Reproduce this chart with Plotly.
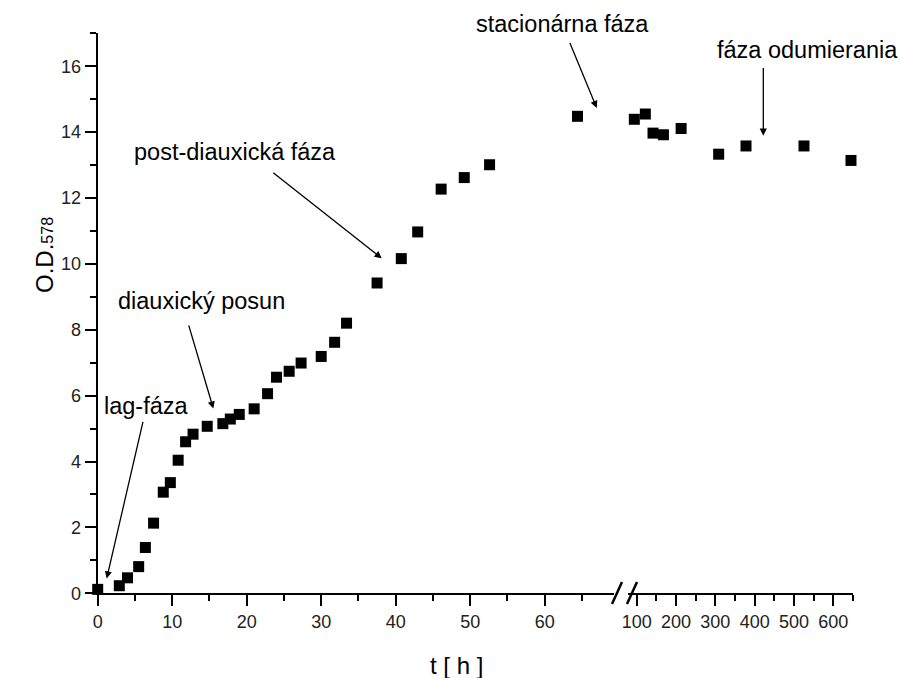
import plotly.graph_objects as go

W, H = 902, 678

# Growth curve: early phase (hours, linear part of the axis)
t_early = [0, 2.9, 4.0, 5.5, 6.4, 7.5, 8.8, 9.75, 10.8, 11.8, 12.8, 14.7, 16.8,
           17.8, 19.0, 21.0, 22.8, 24.0, 25.7, 27.3, 30.0, 31.8, 33.4, 37.5,
           40.75, 42.95, 46.1, 49.2, 52.6, 64.4]
od_early = [0.12, 0.23, 0.47, 0.81, 1.39, 2.13, 3.07, 3.36, 4.04, 4.60, 4.83,
            5.07, 5.15, 5.29, 5.43, 5.60, 6.06, 6.56, 6.74, 6.99, 7.19, 7.62,
            8.20, 9.42, 10.16, 10.97, 12.27, 12.62, 13.01, 14.48]

# Late phase (hours, compressed part of the axis after the break)
t_late = [94, 122, 141.5, 168, 213, 308.5, 378, 525.5, 645]
od_late = [14.39, 14.55, 13.97, 13.92, 14.11, 13.33, 13.58, 13.58, 13.14]

x1_ticks = [0, 10, 20, 30, 40, 50, 60]
x2_ticks = [100, 200, 300, 400, 500, 600]
y_ticks = [0, 2, 4, 6, 8, 10, 12, 14, 16]

# Phase labels and their arrows
labels = ["lag-fáza", "diauxický posun", "post-diauxická fáza",
          "stacionárna fáza", "fáza odumierania"]
label_axis = ["x", "x", "x", "x", "x2"]
label_x = [6.55, 13.9, 18.43, 62.45, 534.4]
label_y = [5.7, 8.86, 13.4, 17.27, 16.49]
tail_x = [6.12, 12.16, 23.36, 63.3, 422]
tail_y = [5.25, 8.18, 12.8, 16.75, 15.99]
tip_x = [1.21, 15.52, 38.12, 66.98, 422]
tip_y = [0.45, 5.61, 10.17, 14.73, 13.89]

FONT = "Liberation Sans, Arial, Helvetica, sans-serif"

Y_BOTTOM, Y_TOP = 593.3, 33.3   # pixel rows of y = 0 and y = 17
Y_MAX = 17


def fx(p):
    return p / W


def fy(p):
    return 1 - p / H


def y_to_paper(v):
    return fy(Y_BOTTOM - (Y_BOTTOM - Y_TOP) * v / Y_MAX)


marker = dict(symbol="square", size=11, color="black", line=dict(width=0))

fig = go.Figure()
fig.add_trace(go.Scatter(x=t_early, y=od_early, mode="markers", marker=marker,
                         xaxis="x", yaxis="y", cliponaxis=False, showlegend=False))
fig.add_trace(go.Scatter(x=t_late, y=od_late, mode="markers", marker=marker,
                         xaxis="x2", yaxis="y", cliponaxis=False, showlegend=False))

common = dict(showline=True, linecolor="black", linewidth=2, ticks="outside",
              ticklen=11, tickwidth=2, tickcolor="black", showgrid=False,
              zeroline=False, automargin=False,
              tickfont=dict(family=FONT, size=18, color="#222"),
              fixedrange=True)

fig.update_layout(
    width=W, height=H,
    margin=dict(l=0, r=0, t=0, b=0, pad=0),
    paper_bgcolor="white", plot_bgcolor="white",
    showlegend=False,
    xaxis=dict(domain=[fx(97.7), fx(614)], range=[0, 69.3], anchor="y",
               tickvals=x1_ticks,
               minor=dict(ticks="outside", ticklen=6, tickwidth=2,
                          tickcolor="black", dtick=5, tick0=0),
               **common),
    xaxis2=dict(domain=[fx(628), fx(853.3)], range=[77.9, 650.9], anchor="y",
                tickvals=x2_ticks,
                minor=dict(ticks="outside", ticklen=6, tickwidth=2,
                           tickcolor="black", dtick=50, tick0=0),
                **common),
    yaxis=dict(domain=[fy(Y_BOTTOM), fy(Y_TOP)], range=[0, Y_MAX], anchor="x",
               tickvals=y_ticks,
               minor=dict(ticks="outside", ticklen=6, tickwidth=2,
                          tickcolor="black", dtick=1, tick0=0),
               **common),
)

# axis break marks
for x0, x1 in [(612, 622), (627, 637)]:
    fig.add_shape(type="line", xref="paper", yref="paper",
                  x0=fx(x0), y0=fy(604), x1=fx(x1), y1=fy(582),
                  line=dict(color="black", width=2.5))

annotations = []
for lab, ax_name, lx, ly, ttx, tty, px, py in zip(labels, label_axis, label_x, label_y,
                                                   tail_x, tail_y, tip_x, tip_y):
    annotations.append(dict(text=lab, x=lx, y=y_to_paper(ly), xref=ax_name, yref="paper",
                            showarrow=False, xanchor="center", yanchor="middle",
                            font=dict(family=FONT, size=23.5, color="black")))
    annotations.append(dict(text="", x=px, y=py, xref=ax_name, yref="y",
                            ax=ttx, ay=tty, axref=ax_name, ayref="y",
                            showarrow=True, arrowhead=2, arrowsize=1.1,
                            arrowwidth=1.3, arrowcolor="black", standoff=0))

annotations.append(dict(text="t [ h ]", x=fx(457), y=fy(665), xref="paper", yref="paper",
                        showarrow=False, xanchor="center", yanchor="middle",
                        font=dict(family=FONT, size=24, color="black")))
annotations.append(dict(text="O.D.<span style='font-size:16px'>578</span>",
                        x=fx(44), y=fy(255), xref="paper", yref="paper",
                        textangle=-90, showarrow=False,
                        xanchor="center", yanchor="middle",
                        font=dict(family=FONT, size=24, color="black")))
fig.update_layout(annotations=annotations)

fig.write_html("out.html")
